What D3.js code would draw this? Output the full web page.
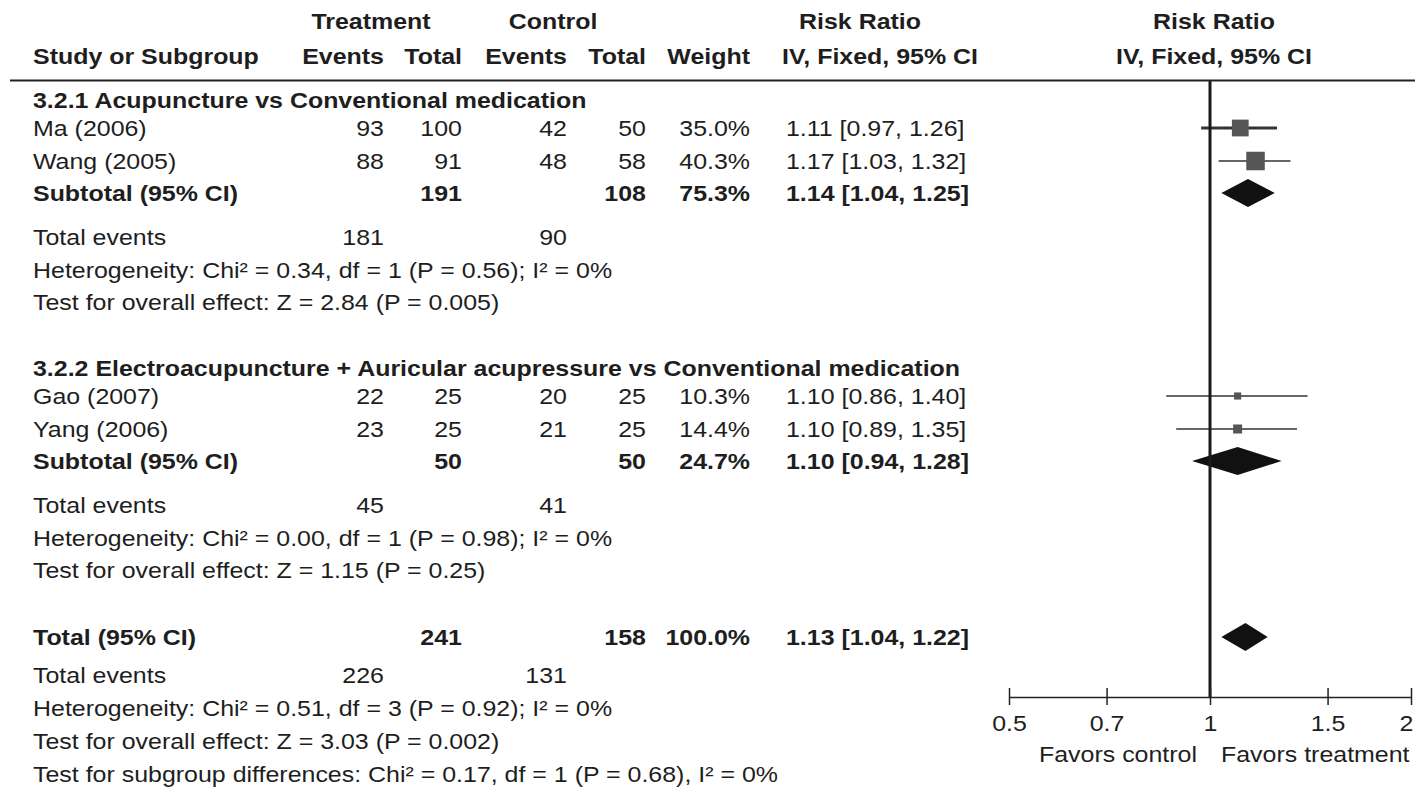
<!DOCTYPE html>
<html>
<head>
<meta charset="utf-8">
<script src="https://cdn.jsdelivr.net/npm/d3@7"></script>
<style>
  body { margin: 0; background: #fff; }
  svg text { font-family: "Liberation Sans", Arial, sans-serif; font-size: 23px; fill: #1e1e1e; }
  svg text.b { font-weight: bold; }
</style>
</head>
<body>
<svg id="chart" width="1415" height="799"></svg>
<script>
'use strict'

// studies
const studies = ['Ma (2006)', 'Wang (2005)', 'Gao (2007)', 'Yang (2006)'];
const studyGroup = [0, 0, 1, 1];
const tEvents = [93, 88, 22, 23];
const tTotal = [100, 91, 25, 25];
const cEvents = [42, 48, 20, 21];
const cTotal = [50, 58, 25, 25];
const weights = [35.0, 40.3, 10.3, 14.4];
const rr = [1.11, 1.17, 1.10, 1.10];
const rrLo = [0.97, 1.03, 0.86, 0.89];
const rrHi = [1.26, 1.32, 1.40, 1.35];

// subgroups
const groupNames = ['3.2.1 Acupuncture vs Conventional medication',
  '3.2.2 Electroacupuncture + Auricular acupressure vs Conventional medication'];
const groupTTotal = [191, 50];
const groupCTotal = [108, 50];
const groupTEvents = [181, 45];
const groupCEvents = [90, 41];
const groupWeight = ['75.3%', '24.7%'];
const groupRR = [1.14, 1.10];
const groupLo = [1.04, 0.94];
const groupHi = [1.25, 1.28];
const groupHet = ['Heterogeneity: Chi\u00b2 = 0.34, df = 1 (P = 0.56); I\u00b2 = 0%',
  'Heterogeneity: Chi\u00b2 = 0.00, df = 1 (P = 0.98); I\u00b2 = 0%'];
const groupTest = ['Test for overall effect: Z = 2.84 (P = 0.005)',
  'Test for overall effect: Z = 1.15 (P = 0.25)'];

// overall
const totalT = 241, totalC = 158, totalEventsT = 226, totalEventsC = 131;
const totalRR = [1.13, 1.04, 1.22];
const totalNotes = ['Heterogeneity: Chi\u00b2 = 0.51, df = 3 (P = 0.92); I\u00b2 = 0%',
  'Test for overall effect: Z = 3.03 (P = 0.002)',
  'Test for subgroup differences: Chi\u00b2 = 0.17, df = 1 (P = 0.68), I\u00b2 = 0%'];

const axisTicks = [0.5, 0.7, 1, 1.5, 2];

const svg = d3.select('#chart');
const fmt2 = d3.format('.2f');
const ciText = (m, l, h) => fmt2(m) + ' [' + fmt2(l) + ', ' + fmt2(h) + ']';
const stretch = 1.085;

// column anchors
const col = { name: 33, te: 384, tt: 462, ce: 567, ct: 646, w: 750, ci: 786 };

const x = d3.scaleLog().domain([0.5, 2]).range([1009, 1411]);
const size = d3.scalePow().exponent(0.7).domain([0, 40.3]).range([0, 18.5]);

function txt(xp, y, s, anchor, bold) {
  svg.append('text')
    .attr('transform', 'translate(' + xp + ',' + (y + 8) + ') scale(' + stretch + ',1)')
    .attr('text-anchor', anchor || 'start')
    .attr('class', bold ? 'b' : null)
    .text(s);
}

// headers
txt(371, 21, 'Treatment', 'middle', true);
txt(553, 21, 'Control', 'middle', true);
txt(860, 21, 'Risk Ratio', 'middle', true);
txt(1214, 21, 'Risk Ratio', 'middle', true);
txt(col.name, 56, 'Study or Subgroup', 'start', true);
txt(col.te, 56, 'Events', 'end', true);
txt(col.tt, 56, 'Total', 'end', true);
txt(col.ce, 56, 'Events', 'end', true);
txt(col.ct, 56, 'Total', 'end', true);
txt(col.w, 56, 'Weight', 'end', true);
txt(880, 56, 'IV, Fixed, 95% CI', 'middle', true);
txt(1214, 56, 'IV, Fixed, 95% CI', 'middle', true);

svg.append('line')
  .attr('x1', 10).attr('x2', 1415).attr('y1', 80.5).attr('y2', 80.5)
  .attr('stroke', '#222').attr('stroke-width', 2);

const plot = svg.append('g');
const diamond = d3.line().x(d => x(d[0])).y(d => d[1]);

function drawDiamond(y, m, l, h) {
  plot.append('path')
    .attr('d', diamond([[l, y], [m, y - 14], [h, y], [m, y + 14]]) + 'Z')
    .attr('fill', '#111');
}

// row positions
const groupTop = [100, 368];
const rowGaps = [28, 33, 32, 44, 33, 32];

groupNames.forEach((g, gi) => {
  let y = groupTop[gi];
  txt(col.name, y, g, 'start', true);
  const idx = studies.map((s, i) => i).filter(i => studyGroup[i] === gi);
  idx.forEach((i, k) => {
    y += rowGaps[k];
    txt(col.name, y, studies[i]);
    txt(col.te, y, tEvents[i], 'end');
    txt(col.tt, y, tTotal[i], 'end');
    txt(col.ce, y, cEvents[i], 'end');
    txt(col.ct, y, cTotal[i], 'end');
    txt(col.w, y, weights[i].toFixed(1) + '%', 'end');
    txt(col.ci, y, ciText(rr[i], rrLo[i], rrHi[i]));
    plot.append('line')
      .attr('x1', x(rrLo[i])).attr('x2', x(rrHi[i]))
      .attr('y1', y).attr('y2', y)
      .attr('stroke', '#333').attr('stroke-width', i === 0 ? 3 : 1.6);
    const s = size(weights[i]);
    plot.append('rect')
      .attr('x', x(rr[i]) - s / 2).attr('y', y - s / 2)
      .attr('width', s).attr('height', s)
      .attr('fill', '#555');
  });
  y += rowGaps[2];
  txt(col.name, y, 'Subtotal (95% CI)', 'start', true);
  txt(col.tt, y, groupTTotal[gi], 'end', true);
  txt(col.ct, y, groupCTotal[gi], 'end', true);
  txt(col.w, y, groupWeight[gi], 'end', true);
  txt(col.ci, y, ciText(groupRR[gi], groupLo[gi], groupHi[gi]), 'start', true);
  drawDiamond(y, groupRR[gi], groupLo[gi], groupHi[gi]);
  y += rowGaps[3];
  txt(col.name, y, 'Total events');
  txt(col.te, y, groupTEvents[gi], 'end');
  txt(col.ce, y, groupCEvents[gi], 'end');
  y += rowGaps[4];
  txt(col.name, y, groupHet[gi]);
  y += rowGaps[5];
  txt(col.name, y, groupTest[gi]);
});

// overall
let yT = 637;
txt(col.name, yT, 'Total (95% CI)', 'start', true);
txt(col.tt, yT, totalT, 'end', true);
txt(col.ct, yT, totalC, 'end', true);
txt(col.w, yT, '100.0%', 'end', true);
txt(col.ci, yT, ciText(totalRR[0], totalRR[1], totalRR[2]), 'start', true);
drawDiamond(yT, totalRR[0], totalRR[1], totalRR[2]);
yT += 38;
txt(col.name, yT, 'Total events');
txt(col.te, yT, totalEventsT, 'end');
txt(col.ce, yT, totalEventsC, 'end');
totalNotes.forEach((n, i) => {
  txt(col.name, yT + 33 * (i + 1), n);
});

// null line and axis
const axisY = 697;
plot.append('line')
  .attr('x1', x(1)).attr('x2', x(1))
  .attr('y1', 81).attr('y2', axisY)
  .attr('stroke', '#1a1a1a').attr('stroke-width', 3);

const axis = d3.axisBottom(x)
  .tickValues(axisTicks)
  .tickFormat(d3.format('~g'))
  .tickSize(0);
const ag = svg.append('g').attr('transform', 'translate(0,' + axisY + ')').call(axis);
ag.select('.domain').attr('stroke', '#222').attr('stroke-width', 1.5);
ag.selectAll('.tick line').remove();
ag.selectAll('.tick').append('line')
  .attr('y1', -9).attr('y2', 8)
  .attr('stroke', '#222').attr('stroke-width', 1.5);
ag.selectAll('.tick text')
  .attr('y', 0).attr('dy', null)
  .attr('transform', d => 'translate(' + (d === 2 ? 2 : 0) + ',34) scale(' + stretch + ',1)')
  .attr('text-anchor', d => d === 2 ? 'end' : 'middle')
  .style('font-size', '23px').style('font-family', '"Liberation Sans", Arial, sans-serif')
  .attr('fill', '#1e1e1e');

txt(x(1) - 13, 754, 'Favors control', 'end');
txt(x(1) + 11, 754, 'Favors treatment', 'start');
</script>
</body>
</html>
